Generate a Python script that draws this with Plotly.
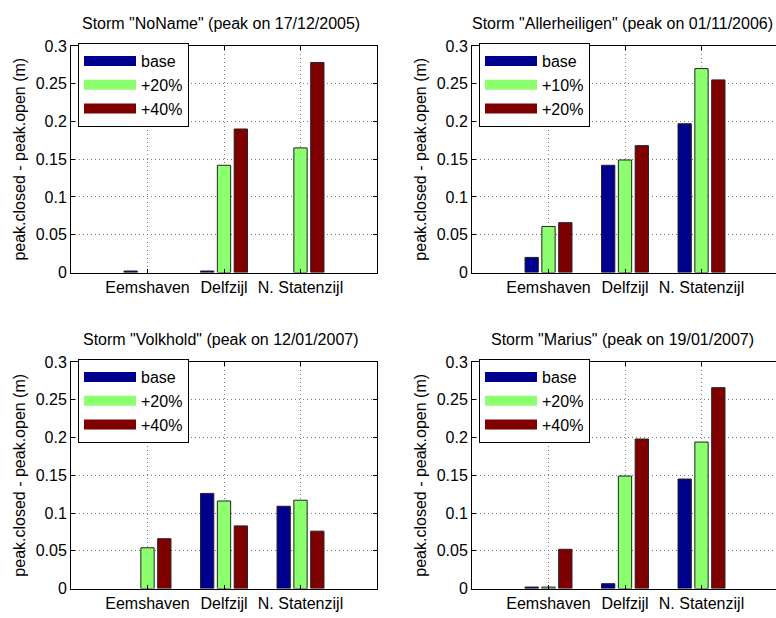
import plotly.graph_objects as go

# Station names and storm metadata
stations = ["Eemshaven", "Delfzijl", "N. Statenzijl"]
station_pos = [1, 2, 3]

titles = [
    'Storm "NoName" (peak on 17/12/2005)',
    'Storm "Allerheiligen" (peak on 01/11/2006)',
    'Storm "Volkhold" (peak on 12/01/2007)',
    'Storm "Marius" (peak on 19/01/2007)',
]

# Scenario labels per storm
labels_noname = ["base", "+20%", "+40%"]
labels_allerheiligen = ["base", "+10%", "+20%"]
labels_volkhold = ["base", "+20%", "+40%"]
labels_marius = ["base", "+20%", "+40%"]

# peak.closed - peak.open (m) per scenario, one value per station
noname_base = [0.002, 0.002, None]
noname_s1 = [None, 0.142, 0.165]
noname_s2 = [None, 0.190, 0.278]

allerheiligen_base = [0.020, 0.142, 0.197]
allerheiligen_s1 = [0.061, 0.149, 0.270]
allerheiligen_s2 = [0.066, 0.168, 0.255]

volkhold_base = [None, 0.126, 0.109]
volkhold_s1 = [0.054, 0.116, 0.117]
volkhold_s2 = [0.066, 0.083, 0.076]

marius_base = [0.002, 0.0065, 0.145]
marius_s1 = [0.002, 0.149, 0.194]
marius_s2 = [0.052, 0.198, 0.266]

ytick_vals = [0, 0.05, 0.1, 0.15, 0.2, 0.25, 0.3]
ytick_text = ["0", "0.05", "0.1", "0.15", "0.2", "0.25", "0.3"]

colors = ["#00008F", "#8CFF6E", "#800000"]

W, H = 776, 618
FONT = "Liberation Sans"

# panel boxes in pixels: (left, right, top, bottom)
panels = [
    (71, 377, 39, 272),
    (472, 778, 39, 272),
    (71, 377, 364, 597),
    (472, 778, 364, 597),
]

panel_data = [
    (labels_noname, [noname_base, noname_s1, noname_s2]),
    (labels_allerheiligen, [allerheiligen_base, allerheiligen_s1, allerheiligen_s2]),
    (labels_volkhold, [volkhold_base, volkhold_s1, volkhold_s2]),
    (labels_marius, [marius_base, marius_s1, marius_s2]),
]

fig = go.Figure()
layout = {}
annotations = []

for i, ((l, r, t, b), (labels, series)) in enumerate(zip(panels, panel_data)):
    n = i + 1
    xa = "xaxis" if n == 1 else f"xaxis{n}"
    ya = "yaxis" if n == 1 else f"yaxis{n}"
    xref = "x" if n == 1 else f"x{n}"
    yref = "y" if n == 1 else f"y{n}"
    leg = "legend" if n == 1 else f"legend{n}"

    vis_r = min(r, W)
    full_w = r - l
    xmax = 4.0 * (vis_r - l) / full_w
    clipped = r > W

    for lab, vals, col in zip(labels, series, colors):
        fig.add_trace(go.Bar(
            x=station_pos, y=vals, name=lab, xaxis=xref, yaxis=yref,
            marker=dict(color=col, line=dict(color="#222222", width=1)),
            showlegend=False, offsetgroup=lab + str(n),
        ))
        # legend key: a thick line swatch in the bar colour
        fig.add_trace(go.Scatter(
            x=[None], y=[None], mode="lines", name=lab,
            xaxis=xref, yaxis=yref, legend=leg,
            line=dict(color=col, width=15),
        ))

    layout[xa] = dict(
        domain=[l / W, vis_r / W], range=[0, xmax], anchor=yref,
        tickvals=station_pos, ticktext=stations,
        ticks="inside", ticklen=4, tickcolor="black",
        showline=True, linecolor="black", linewidth=1, mirror="ticks",
        showgrid=True, gridcolor="#7a7a7a", griddash="1px,3px", gridwidth=1,
        zeroline=False, tickfont=dict(size=16, color="black", family=FONT),
        fixedrange=True,
    )
    layout[ya] = dict(
        domain=[1 - b / H, 1 - t / H], range=[0, 0.3], anchor=xref,
        tickvals=ytick_vals, ticktext=ytick_text,
        ticks="inside", ticklen=4, tickcolor="black",
        showline=True, linecolor="black", linewidth=1,
        mirror=False if clipped else "ticks",
        showgrid=True, gridcolor="#7a7a7a", griddash="1px,3px", gridwidth=1,
        zeroline=False, tickfont=dict(size=16, color="black", family=FONT),
        title=dict(text="peak.closed - peak.open (m)", standoff=6,
                   font=dict(size=16, color="black", family=FONT)),
        fixedrange=True,
    )
    layout[leg] = dict(
        x=(l + 7) / W, y=1 - (t - 3) / H, xanchor="left", yanchor="top",
        xref="paper", yref="paper",
        bgcolor="white", bordercolor="black", borderwidth=1,
        font=dict(size=16, color="black", family=FONT),
        itemwidth=52, tracegroupgap=0,
    )
    annotations.append(dict(
        text=titles[i], x=(l + 150) / W, y=1 - (t - 12) / H,
        xref="paper", yref="paper", xanchor="center", yanchor="bottom",
        showarrow=False, font=dict(size=16, color="black", family=FONT),
    ))

fig.update_layout(
    width=W, height=H, margin=dict(l=0, r=0, t=0, b=0),
    paper_bgcolor="white", plot_bgcolor="white",
    barmode="group", bargap=0.34, bargroupgap=0.21,
    annotations=annotations, showlegend=True,
    font=dict(family=FONT, color="black"),
    **layout,
)

fig.write_html("out.html", config={"displayModeBar": False})
